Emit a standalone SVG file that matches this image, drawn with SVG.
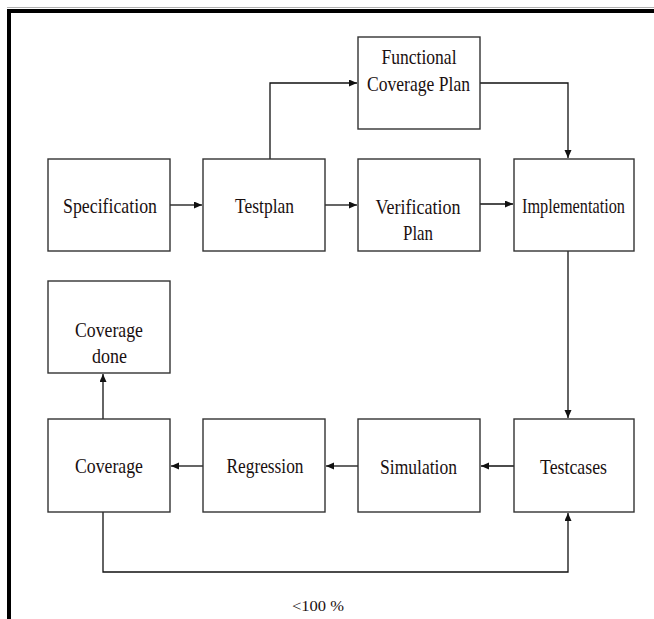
<svg xmlns="http://www.w3.org/2000/svg" width="654" height="619" viewBox="0 0 654 619">
<style>
.box{fill:#fff;stroke:#333;stroke-width:1.4}
.t{font-family:"Liberation Serif","Times New Roman",serif;font-size:21px;fill:#1a1010;text-anchor:middle}
.s{font-family:"Liberation Serif","Times New Roman",serif;font-size:15px;fill:#1a1010;text-anchor:middle}
.c{fill:none;stroke:#111;stroke-width:1.3}
</style>
<defs>
<marker id="ah" markerUnits="userSpaceOnUse" markerWidth="9" markerHeight="8" refX="8" refY="3.5" orient="auto">
<path d="M0,0 L8,3.5 L0,7 z" fill="#111"/>
</marker>
</defs>
<rect width="654" height="619" fill="#fff"/>
<g id="frame">
<line x1="7" y1="7.5" x2="654" y2="7.5" stroke="#b0b0b0" stroke-width="1"/>
<rect x="7" y="9" width="647" height="4" fill="#000"/>
<rect x="7" y="9" width="4" height="610" fill="#000"/>
</g>
<g id="connectors">
<path class="c" d="M170,205 H202" marker-end="url(#ah)"/>
<path class="c" d="M270,159 V83 H357" marker-end="url(#ah)"/>
<path class="c" d="M325,205 H357" marker-end="url(#ah)"/>
<path class="c" d="M480,83 H568 V158" marker-end="url(#ah)"/>
<path class="c" d="M480,204 H513" marker-end="url(#ah)"/>
<path class="c" d="M568,251 V418" marker-end="url(#ah)"/>
<path class="c" d="M514,466 H481" marker-end="url(#ah)"/>
<path class="c" d="M358,466 H326" marker-end="url(#ah)"/>
<path class="c" d="M203,466 H171" marker-end="url(#ah)"/>
<path class="c" d="M103,419 V374" marker-end="url(#ah)"/>
<path class="c" d="M103,512 V572 H568 V513" marker-end="url(#ah)"/>
<text class="s" x="318" y="611" textLength="52" lengthAdjust="spacingAndGlyphs">&lt;100 %</text>
</g>
<g id="specification">
<rect class="box" x="48" y="159" width="122" height="92"/>
<text class="t" x="110" y="213" textLength="94" lengthAdjust="spacingAndGlyphs">Specification</text>
</g>
<g id="testplan">
<rect class="box" x="203" y="159" width="122" height="92"/>
<text class="t" x="264.5" y="213" textLength="59" lengthAdjust="spacingAndGlyphs">Testplan</text>
</g>
<g id="functional-coverage-plan">
<rect class="box" x="358" y="37" width="122" height="92"/>
<text class="t" x="419" y="64" textLength="75" lengthAdjust="spacingAndGlyphs">Functional</text>
<text class="t" x="418.5" y="91" textLength="103" lengthAdjust="spacingAndGlyphs">Coverage Plan</text>
</g>
<g id="verification-plan">
<rect class="box" x="358" y="159" width="122" height="92"/>
<text class="t" x="418" y="214" textLength="85" lengthAdjust="spacingAndGlyphs">Verification</text>
<text class="t" x="418" y="240" textLength="30" lengthAdjust="spacingAndGlyphs">Plan</text>
</g>
<g id="implementation">
<rect class="box" x="514" y="159" width="120" height="92"/>
<text class="t" x="573.5" y="213" textLength="103" lengthAdjust="spacingAndGlyphs">Implementation</text>
</g>
<g id="coverage-done">
<rect class="box" x="48" y="281" width="122" height="92"/>
<text class="t" x="109" y="337" textLength="68" lengthAdjust="spacingAndGlyphs">Coverage</text>
<text class="t" x="109.5" y="363" textLength="35" lengthAdjust="spacingAndGlyphs">done</text>
</g>
<g id="coverage">
<rect class="box" x="48" y="419" width="122" height="93"/>
<text class="t" x="109" y="473" textLength="68" lengthAdjust="spacingAndGlyphs">Coverage</text>
</g>
<g id="regression">
<rect class="box" x="203" y="419" width="122" height="93"/>
<text class="t" x="265" y="473" textLength="77" lengthAdjust="spacingAndGlyphs">Regression</text>
</g>
<g id="simulation">
<rect class="box" x="358" y="419" width="122" height="93"/>
<text class="t" x="418.5" y="474" textLength="77" lengthAdjust="spacingAndGlyphs">Simulation</text>
</g>
<g id="testcases">
<rect class="box" x="514" y="419" width="120" height="93"/>
<text class="t" x="573.5" y="474" textLength="67" lengthAdjust="spacingAndGlyphs">Testcases</text>
</g>
</svg>
